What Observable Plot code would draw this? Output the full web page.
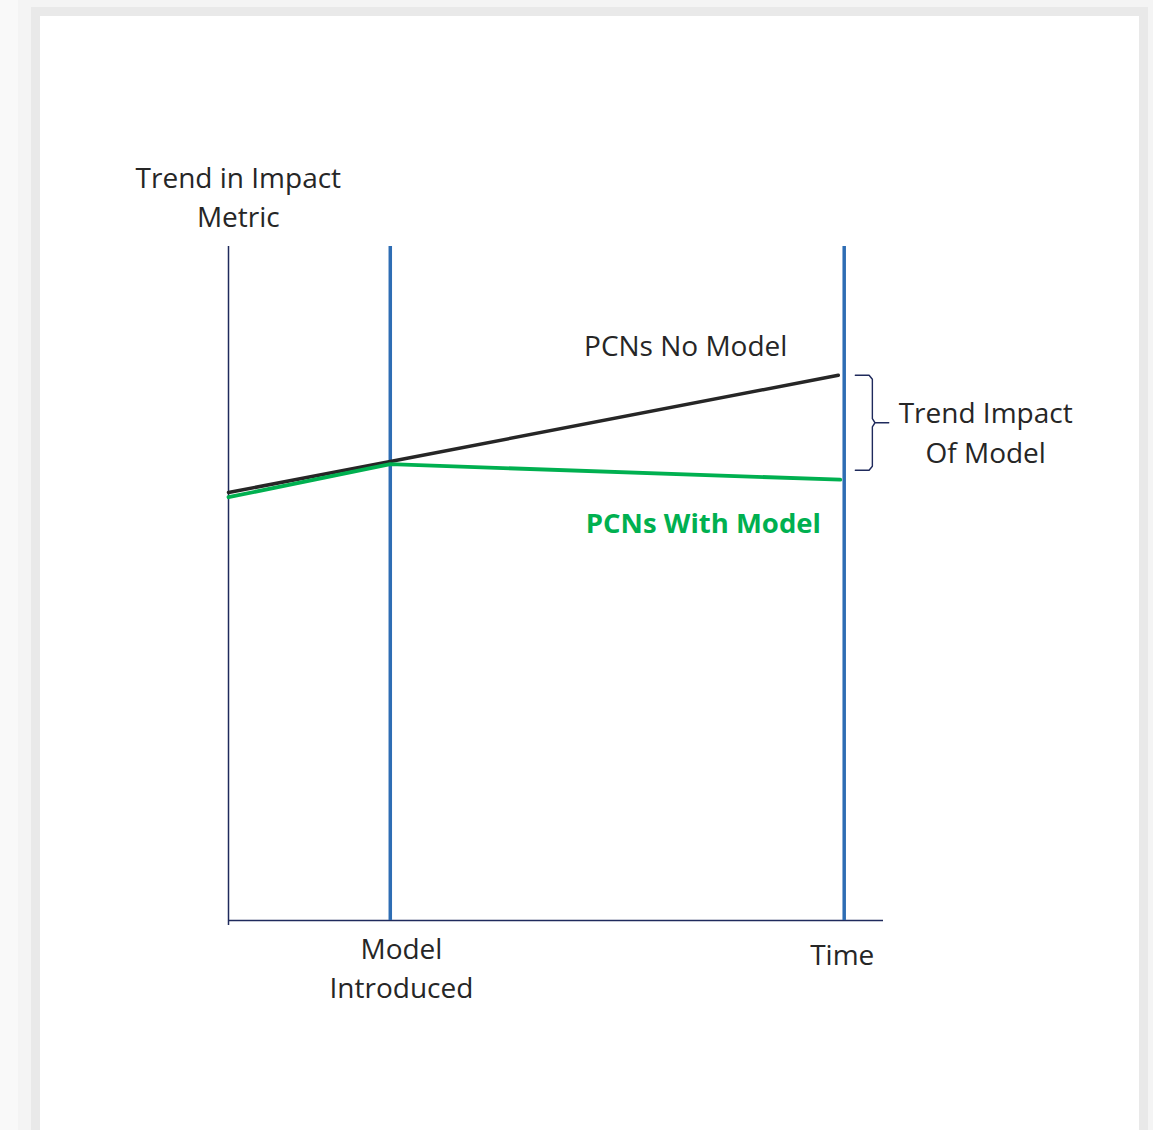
<!DOCTYPE html>
<html><head><meta charset="utf-8">
<script src="https://cdn.jsdelivr.net/npm/d3@7"></script>
<script src="https://cdn.jsdelivr.net/npm/@observablehq/plot@0.6"></script>
<style>
html,body{margin:0;padding:0;background:#f9f9f9;width:1153px;height:1130px;overflow:hidden;}
#card{position:absolute;left:40px;top:16px;width:1099px;height:1130px;background:#fff;box-shadow:0 0 0 9px #e9e9e9,0 0 0 22px #f4f4f4;}
#chart{position:absolute;left:0;top:0;}
#chart svg{background:transparent;}
</style></head><body>
<div id="card"></div><div id="chart"></div>
<script>
// Series (time units 0–100 along the axis, metric units 0–100 up the axis)
const noModelTime = [0, 24.7, 93.1];
const noModelValue = [63.5, 68.1, 80.9];
const withModelTime = [0, 24.7, 93.4];
const withModelValue = [62.8, 67.7, 65.4];
const seriesNames = ["PCNs No Model", "PCNs With Model"];
const eventTimes = [24.7, 94.0];
const eventLabels = ["Model\nIntroduced", "Time"];
const axisTitle = "Trend in Impact\nMetric";
const braceLabel = "Trend Impact\nOf Model";

const noModel = noModelTime.map((t, i) => ({t, v: noModelValue[i]}));
const withModel = withModelTime.map((t, i) => ({t, v: withModelValue[i]}));

// brace spanning the gap between the two series at the end
const braceTop = noModelValue[noModelValue.length - 1];
const braceBottom = withModelValue[withModelValue.length - 1] + 1.4;
const braceMid = (braceTop + braceBottom) / 2;
const bx0 = 95.7, bx1 = 98.3, bx2 = 100.8;
const brace = [
  {t: bx0, v: braceTop}, {t: bx1 - 0.5, v: braceTop}, {t: bx1, v: braceTop - 0.6},
  {t: bx1, v: braceMid + 0.6}, {t: bx1 + 0.4, v: braceMid}, {t: bx2, v: braceMid},
  {t: bx1 + 0.4, v: braceMid}, {t: bx1, v: braceMid - 0.6},
  {t: bx1, v: braceBottom + 0.6}, {t: bx1 - 0.5, v: braceBottom}, {t: bx0, v: braceBottom}
];

const plainLabels = [
  {t: 1.5, v: 107.7, text: axisTitle},
  {t: 69.8, v: 85.6, text: seriesNames[0]},
  {t: 115.6, v: 72.7, text: braceLabel},
  {t: 26.4, v: -6.8, text: eventLabels[0]},
  {t: 93.7, v: -4.8, text: eventLabels[1]}
];
const boldLabels = [
  {t: 72.5, v: 58.8, text: seriesNames[1]}
];

const navy = "#1f2a5c";
const chart = Plot.plot({
  width: 1153, height: 1130,
  marginLeft: 228, marginRight: 270, marginTop: 246, marginBottom: 210,
  x: {domain: [0, 100], axis: null},
  y: {domain: [0, 100], axis: null},
  style: {fontFamily: "'Open Sans', sans-serif", background: "transparent"},
  marks: [
    Plot.ruleX([0], {y1: -0.75, y2: 100, stroke: navy, strokeWidth: 1.5}),
    Plot.ruleY([0], {x1: 0, x2: 100, stroke: navy, strokeWidth: 1.5}),
    Plot.ruleX(eventTimes, {y1: 0, y2: 100, stroke: "#2e6db4", strokeWidth: 3.5}),
    Plot.line(noModel, {x: "t", y: "v", stroke: "#262626", strokeWidth: 3.5}),
    Plot.line(withModel, {x: "t", y: "v", stroke: "#00b050", strokeWidth: 3.8}),
    Plot.line(brace, {x: "t", y: "v", stroke: navy, strokeWidth: 1.4, clip: false}),
    Plot.text(plainLabels, {x: "t", y: "v", text: "text", fill: "#262626",
      fontSize: 28, lineHeight: 1.4, lineAnchor: "middle", textAnchor: "middle", clip: false}),
    Plot.text(boldLabels, {x: "t", y: "v", text: "text", fill: "#00b050", fontWeight: "bold",
      fontSize: 27.5, lineAnchor: "middle", textAnchor: "middle", clip: false})
  ]
});
document.getElementById("chart").appendChild(chart);
</script>
</body></html>
